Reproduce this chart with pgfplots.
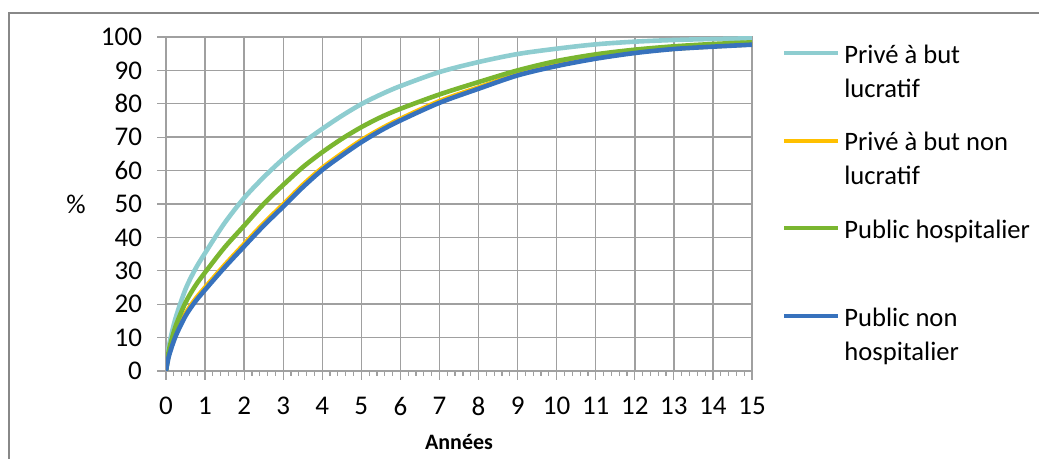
\documentclass[border=0pt]{standalone}
\usepackage{fontspec}
\setmainfont{Carlito}
\usepackage{pgfplots}
\pgfplotsset{compat=1.18}
\definecolor{cLB}{RGB}{142,205,208}
\definecolor{cY}{RGB}{255,192,0}
\definecolor{cG}{RGB}{122,182,48}
\definecolor{cB}{RGB}{55,114,189}
\definecolor{gridgray}{RGB}{160,160,160}
\definecolor{framegray}{RGB}{136,136,136}
\pgfplotstableread{
x    lb    y     g     b
0    0     0     0     0
0.05 6     3.8   4.5   3.2
0.1  9     6.2   7.5   5.5
0.25 16    11.2  13.5  10.5
0.5  24.5  17.2  20.5  16.5
0.75 30.5  21.5  25.5  20.8
1    35.3  25.0  29.5  24.3
1.5  44.3  31.7  37    31
2    51.8  38.0  43.5  37.3
2.5  58    44.2  50    43.5
3    63.5  49.9  55.7  49.2
3.5  68.3  55.7  61    55
4    72.5  60.8  65.5  60.2
4.5  76.4  65.1  69.5  64.5
5    79.9  69.1  73    68.5
5.5  82.8  72.5  76    72
6    85.3  75.5  78.5  75
7    89.5  80.8  82.8  80.3
8    92.5  84.9  86.5  84.5
9    94.9  88.8  90    88.5
10   96.5  91.6  92.8  91.3
11   97.8  93.7  94.8  93.5
12   98.6  95.4  96.2  95.2
13   99.1  96.5  97.2  96.4
14   99.4  97.2  97.9  97.1
15   99.6  97.8  98.4  97.7
}\datatable
\begin{document}
\begin{tikzpicture}
\useasboundingbox (0pt,0pt) rectangle (519.5pt,229.5pt);
\draw[line width=1pt, color=framegray] (4.5pt,-2pt) -- (4.5pt,223pt) -- (522pt,223pt);
\begin{axis}[
  at={(83pt,44pt)}, anchor=south west,
  scale only axis, width=293pt, height=167pt,
  xmin=0, xmax=15, ymin=0, ymax=100,
  xtick={0,1,...,15}, ytick={0,10,...,100},
  minor x tick num=4,
  grid=major,
  major grid style={gridgray, line width=0.7pt},
  axis line style={gridgray, line width=0.7pt},
  tick pos=left, tick align=outside,
  major tick length=4.5pt, minor tick length=2.5pt,
  every tick/.style={gridgray, line width=0.6pt},
  /pgf/number format/assume math mode=true,
  ticklabel style={font=\fontsize{13.5}{16}\selectfont, text=black},
  xticklabel style={yshift=-5pt},
  yticklabel style={xshift=-4pt},
  xlabel={\textbf{Années}},
  xlabel style={font=\fontsize{11}{13}\selectfont, at={(axis description cs:0.5,-0.2126)}, anchor=center},
  ylabel={\%},
  ylabel style={font=\fontsize{13.5}{16}\selectfont, rotate=-90, at={(axis description cs:-0.1536,0.5)}, anchor=center},
  legend style={at={(rel axis cs:1,1)}, anchor=north west, xshift=15pt, yshift=1pt,
    draw=none, fill=none, font=\fontsize{13.3}{17}\selectfont, row sep=26.5pt, inner sep=0pt},
  legend cell align=left,
  legend image code/.code={\draw[#1, line width=2pt] (0pt,0pt) -- (27pt,0pt);},
]
\addplot[cLB, line width=2.3pt, smooth, tension=0.5] table[x=x, y=lb] {\datatable};
\addlegendentry{\begin{tabular}[t]{@{}l@{}}Privé à but\\lucratif\end{tabular}}
\addplot[cY, line width=2.3pt, smooth, tension=0.5] table[x=x, y=y] {\datatable};
\addlegendentry{\begin{tabular}[t]{@{}l@{}}Privé à but non\\lucratif\end{tabular}}
\addplot[cG, line width=2.3pt, smooth, tension=0.5] table[x=x, y=g] {\datatable};
\addlegendentry{\begin{tabular}[t]{@{}l@{}}Public hospitalier\\ \end{tabular}}
\addplot[cB, line width=2.3pt, smooth, tension=0.5] table[x=x, y=b] {\datatable};
\addlegendentry{\begin{tabular}[t]{@{}l@{}}Public non\\hospitalier\end{tabular}}
\end{axis}
\end{tikzpicture}
\end{document}
